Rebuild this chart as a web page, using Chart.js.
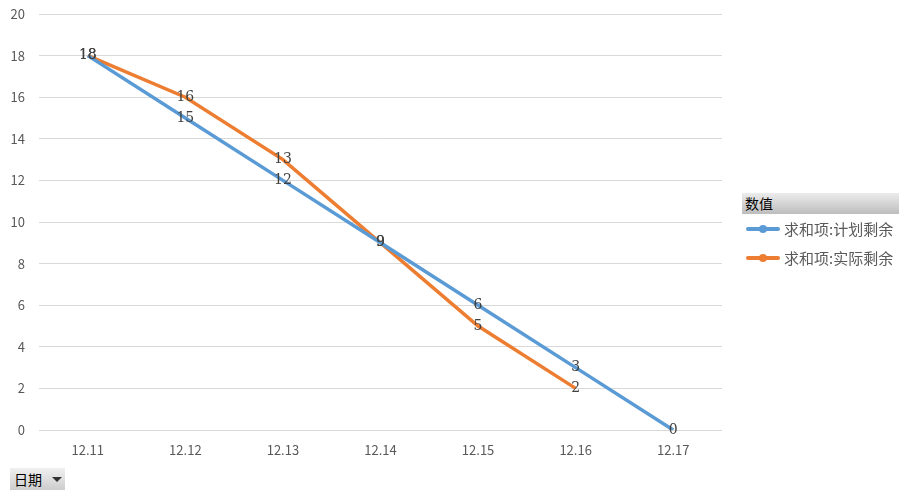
<!DOCTYPE html>
<html>
<head>
<meta charset="utf-8">
<script src="https://cdn.jsdelivr.net/npm/chart.js@4/dist/chart.umd.min.js"></script>
<style>
    body { margin: 0; background: #fff; font-family: 'Noto Sans CJK SC', sans-serif; }
    #wrap { position: relative; width: 909px; height: 499px; }
    #legend { position: absolute; left: 742px; top: 193px; width: 157px; }
    #legend .head {
        height: 21px; line-height: 21px; padding-left: 3px; font-size: 14px; color: #000;
        background: linear-gradient(#ececec, #bdbdbd);
    }
    #legend .item { position: relative; height: 29px; line-height: 29px; font-size: 15px; color: #595959; padding-left: 42px; }
    #legend .item .ln { position: absolute; left: 4px; top: 13px; width: 34px; height: 4px; border-radius: 2px; }
    #legend .item .dot { position: absolute; left: 17px; top: 11px; width: 8px; height: 8px; border-radius: 50%; }
    #field {
        position: absolute; left: 10px; top: 468px; width: 55px; height: 22px; line-height: 22px;
        font-size: 14px; color: #000; padding-left: 4px; box-sizing: border-box;
        background: linear-gradient(#f0f0f0, #cdcdcd);
    }
    #field .arrow {
        position: absolute; left: 42px; top: 9px; width: 0; height: 0;
        border-left: 5px solid transparent; border-right: 5px solid transparent; border-top: 5px solid #333;
    }
</style>
</head>
<body>
<div id="wrap">
    <canvas id="chart" width="909" height="499"></canvas>
    <div id="legend"></div>
    <div id="field">日期<span class="arrow"></span></div>
</div>
<script>
// Chart data
const dates = ['12.11', '12.12', '12.13', '12.14', '12.15', '12.16', '12.17'];
const plannedLeft = [18, 15, 12, 9, 6, 3, 0];
const actualLeft = [18, 16, 13, 9, 5, 2, null];
const seriesNames = ['求和项:计划剩余', '求和项:实际剩余'];
const seriesColors = ['#5b9bd5', '#ed7d31'];
const yTicks = [0, 2, 4, 6, 8, 10, 12, 14, 16, 18, 20];

/**
 * Draw value labels centred on each point
 */
const valueLabels = {
    id: 'valueLabels',
    afterDatasetsDraw(chart) {
        const ctx = chart.ctx;
        ctx.save();
        ctx.font = '14px "DejaVu Serif", serif';
        ctx.fillStyle = '#404040';
        ctx.textAlign = 'center';
        ctx.textBaseline = 'middle';
        chart.data.datasets.forEach((ds, i) => {
            chart.getDatasetMeta(i).data.forEach((pt, j) => {
                const v = ds.data[j];
                if (v === null || v === undefined) return;
                ctx.fillText(String(v), pt.x, pt.y);
            });
        });
        ctx.restore();
    }
};

// HTML legend
const legendEl = document.getElementById('legend');
legendEl.innerHTML = '<div class="head">数值</div>' + seriesNames.map((name, i) => `
    <div class="item">
        <span class="ln" style="background:${seriesColors[i]}"></span>
        <span class="dot" style="background:${seriesColors[i]}"></span>${name}
    </div>`).join('');

const ctx = document.getElementById('chart').getContext('2d');
new Chart(ctx, {
    type: 'line',
    data: {
        labels: dates,
        datasets: [
            { label: seriesNames[0], data: plannedLeft, borderColor: seriesColors[0], backgroundColor: seriesColors[0] },
            { label: seriesNames[1], data: actualLeft, borderColor: seriesColors[1], backgroundColor: seriesColors[1] }
        ].map(d => Object.assign(d, { borderWidth: 3.5, pointRadius: 0, tension: 0, spanGaps: false }))
    },
    options: {
        responsive: false,
        animation: false,
        layout: { padding: { left: 0, right: 187, top: 14, bottom: 0 } },
        plugins: { legend: { display: false }, tooltip: { enabled: false } },
        scales: {
            x: {
                offset: true,
                grid: { display: false },
                border: { display: false },
                ticks: { color: '#595959', font: { size: 13, family: "'Noto Sans CJK SC', sans-serif" }, padding: 4, maxRotation: 0 },
                afterFit: scale => { scale.height = 69; scale.paddingLeft = 0; scale.paddingRight = 0; }
            },
            y: {
                min: 0,
                max: 20,
                afterBuildTicks: scale => { scale.ticks = yTicks.map(v => ({ value: v })); },
                grid: { color: '#d9d9d9', lineWidth: 1, drawTicks: false },
                border: { display: false },
                ticks: { color: '#595959', font: { size: 13, family: "'Noto Sans CJK SC', sans-serif" }, padding: 14 },
                afterFit: scale => { scale.width = 39; scale.paddingTop = 0; scale.paddingBottom = 0; }
            }
        }
    },
    plugins: [valueLabels]
});
</script>
</body>
</html>
